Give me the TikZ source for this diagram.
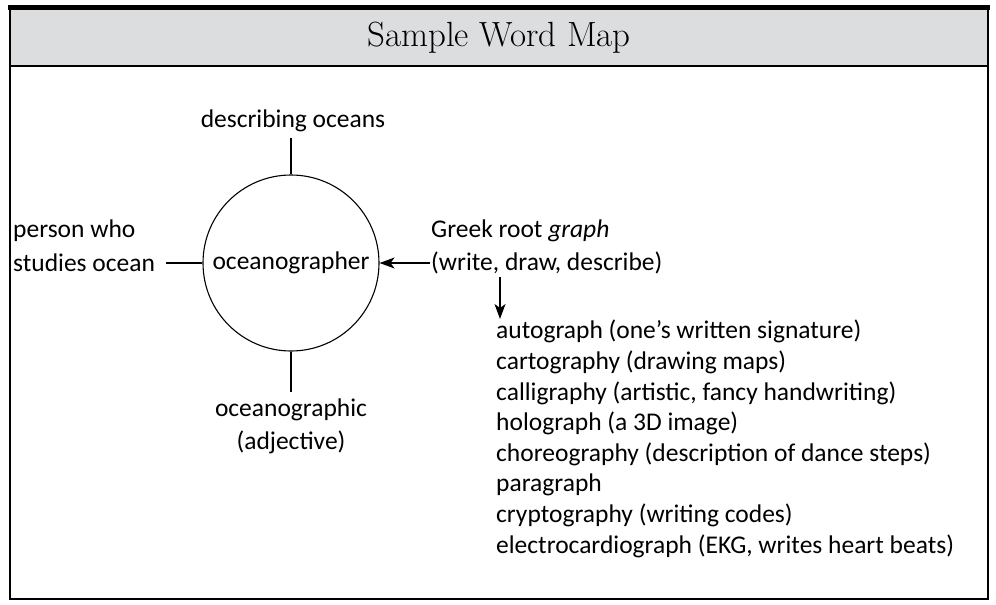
\documentclass[tikz,border=0pt]{standalone}
\usepackage{fontspec}
\newfontfamily\hand{Carlito}
\newfontfamily\titlefont{Latin Modern Roman}
\usetikzlibrary{arrows.meta,positioning}
\definecolor{barGray}{HTML}{DCDDDF}

\begin{document}
\begin{tikzpicture}[x=1pt,y=-1pt,
	word/.style={font=\hand\fontsize{25.5}{30.6}\selectfont, inner sep=1pt},
	spoke/.style={line width=1.1pt},
	tip/.style={-{Stealth[length=15pt,width=11pt,inset=4pt]}}]
	\useasboundingbox (0,0) rectangle (996,605);
	
	% frame and title bar
	\fill[barGray] (10,10) rectangle (988,66);
	\draw[line width=1.2pt] (10,66) -- (988,66);
	\draw[line width=1.4pt] (10,8) rectangle (988,599);
	\draw[line width=5pt] (8,7.5) -- (990,7.5);
	\node[font=\titlefont\fontsize{35}{40}\selectfont](TITLE) at (499,38){Sample Word Map};
	
	\node[draw, circle, spoke, minimum size=176pt, word](C) at (291,263){oceanographer};
	
	\node[word](TOP) at (293,121){describing oceans};
	\node[word, anchor=west](P1) at (12,231){person who};
	\node[word, anchor=west](P2) at (12,263){studies ocean};
	\node[word](B1) at (291,410){oceanographic};
	\node[word](B2) at (291,442){(adjective)};
	
	\node[word, anchor=west](G1) at (430,231){Greek root \textit{graph}};
	\node[word, anchor=west](G2) at (430,263){(write, draw, describe)};
	
	\node[word, anchor=north west, align=left](LIST) at (495,319){autograph (one’s written signature)\\
		cartography (drawing maps)\\
		calligraphy (artistic, fancy handwriting)\\
		holograph (a 3D image)\\
		choreography (description of dance steps)\\
		paragraph\\
		cryptography (writing codes)\\
		electrocardiograph (EKG, writes heart beats)};
	
	\draw[spoke] (C.north) -- ([yshift=-5pt]C.north |- TOP.south);
	\draw[spoke] (C.west) -- ([xshift=10pt]P2.east);
	\draw[spoke] (C.south) -- ([yshift=6pt]B1.north);
	\draw[spoke, tip] (G2.west) -- (C.east);
	
	\coordinate[below=2pt of G2.south west, xshift=70pt](DOWN);
	\draw[spoke, tip] (DOWN) -- (DOWN |- LIST.north);
\end{tikzpicture}
\end{document}
